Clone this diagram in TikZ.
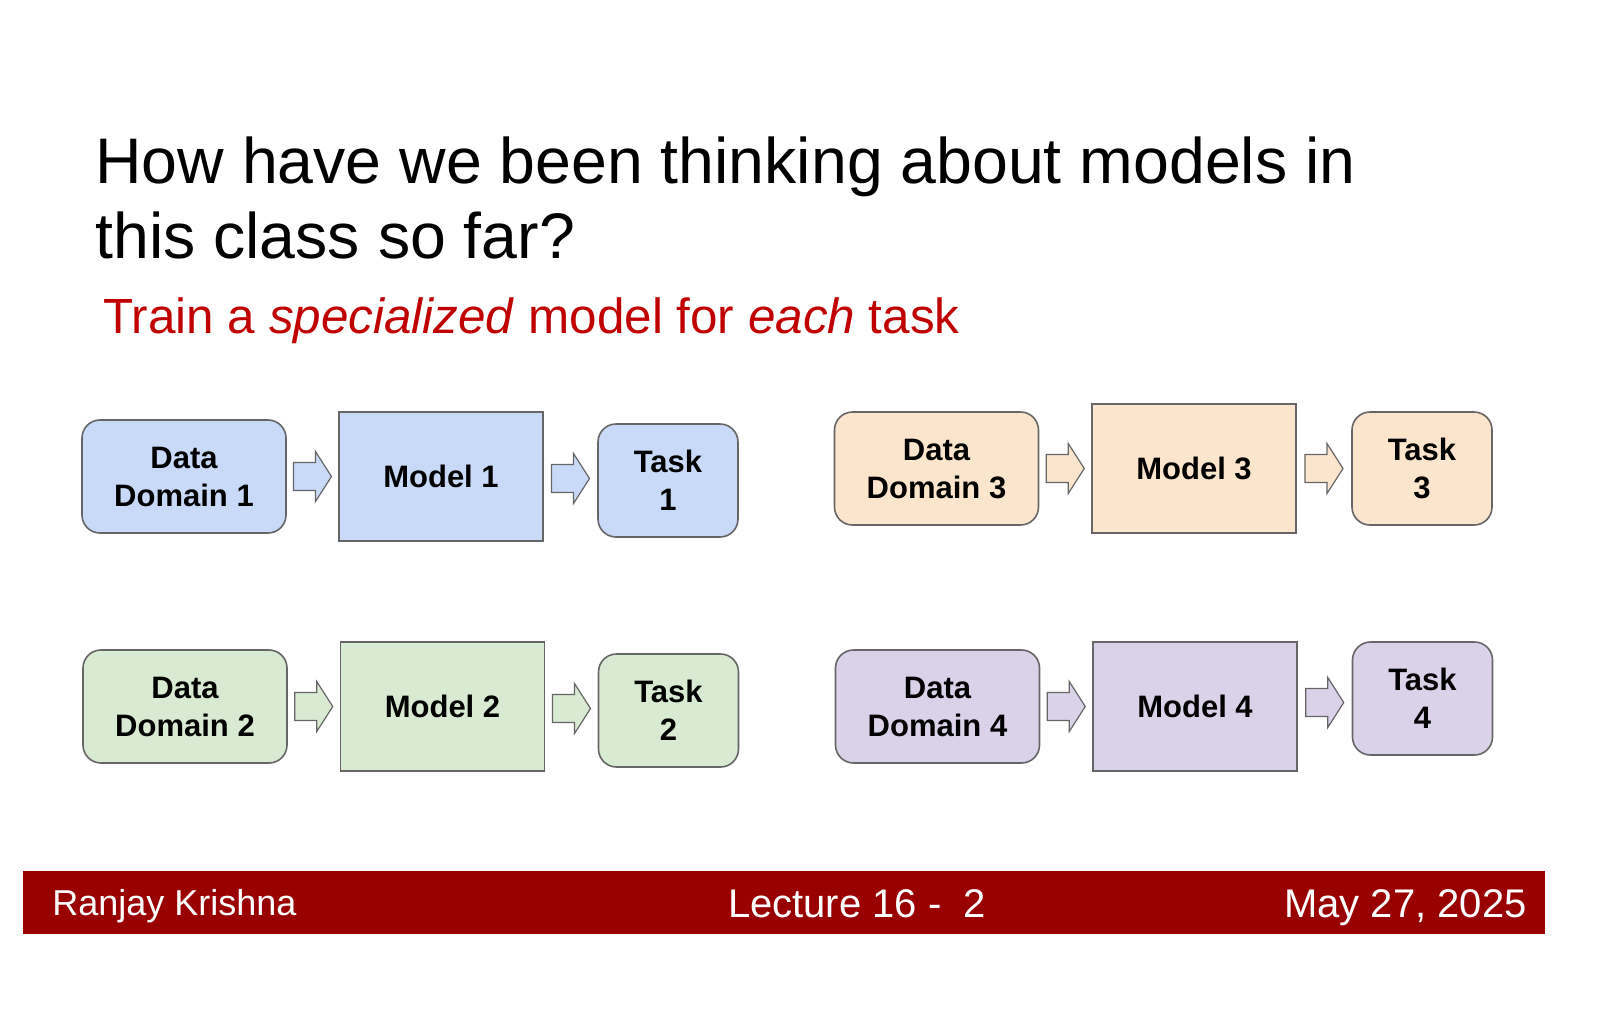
\documentclass[tikz,border=0pt]{standalone}
\usepackage{fontspec}
\setmainfont{Liberation Sans}
\usetikzlibrary{calc}
\definecolor{cb}{HTML}{C9DAF8}
\definecolor{cg}{HTML}{D9EAD3}
\definecolor{co}{HTML}{FCE5CD}
\definecolor{cp}{HTML}{D9D2E9}
\definecolor{bar}{HTML}{990000}
\definecolor{red1}{HTML}{C00000}
\definecolor{edge}{HTML}{666666}
\newcommand{\blockarrow}[2]{%
 \draw[arr,fill=#2,shift={(#1)}] (-19,-14) -- (3,-14) -- (3,-25) -- (19,0) -- (3,25) -- (3,14) -- (-19,14) -- cycle;}
\newcommand{\myrow}[8]{%
 \node[rbox,fill=#8,minimum width=102pt,minimum height=56.5pt] (d#1) at (#2,#3) {Data\\Domain #1};
 \node[box,fill=#8,minimum width=102pt,minimum height=64.5pt] (m#1) at (#4,#5) {Model #1};
 \node[rbox,fill=#8,minimum width=70pt,minimum height=56.5pt] (k#1) at (#6,#7) {Task\\#1};
 \coordinate (a#1) at ($(d#1.east)!0.5!(m#1.west)$);
 \coordinate (b#1) at ($(m#1.east)!0.5!(k#1.west)$);
 \blockarrow{a#1}{#8}\blockarrow{b#1}{#8}%
}
\begin{document}
\begin{tikzpicture}[x=0.5pt,y=-0.5pt,
 box/.style={draw=edge,line width=0.8pt,font=\fontsize{15.5}{19}\selectfont\bfseries,align=center,inner sep=0pt},
 rbox/.style={box,rounded corners=9pt},
 arr/.style={draw=edge,line width=0.6pt,line join=miter}]
\useasboundingbox (0,0) rectangle (1600,1035);
\fill[white] (0,0) rectangle (1600,1035);
\node[anchor=base west,inner sep=0pt,font=\fontsize{32.2}{37.5}\selectfont] (t1) at (95,183) {How have we been thinking about models in};
\node[anchor=base west,inner sep=0pt,font=\fontsize{32.2}{37.5}\selectfont] (t2) at (95,258) {this class so far?};
\node[anchor=base west,inner sep=0pt,font=\fontsize{24.7}{28}\selectfont,text=red1] (sub) at (103,333) {Train a \textit{specialized} model for \textit{each} task};
\myrow{1}{184}{476.5}{441}{476.5}{668}{480.5}{cb}
\myrow{2}{185}{706.5}{442.5}{706.5}{668.5}{710.5}{cg}
\myrow{3}{936.5}{468.5}{1194}{468.5}{1422}{468.5}{co}
\myrow{4}{937.5}{706.5}{1195}{706.5}{1422.5}{698.5}{cp}
\fill[bar] (23,871) rectangle (1545,934);
\node[anchor=base west,inner sep=0pt,text=white,font=\fontsize{18}{20}\selectfont] (f1) at (52,915) {Ranjay Krishna};
\node[anchor=base,inner sep=0pt,text=white,font=\fontsize{20}{22}\selectfont] (f2) at (857,917) {Lecture 16 -\ \ 2};
\node[anchor=base east,inner sep=0pt,text=white,font=\fontsize{20}{22}\selectfont] (f3) at (1527,917) {May 27, 2025};
\end{tikzpicture}
\end{document}
